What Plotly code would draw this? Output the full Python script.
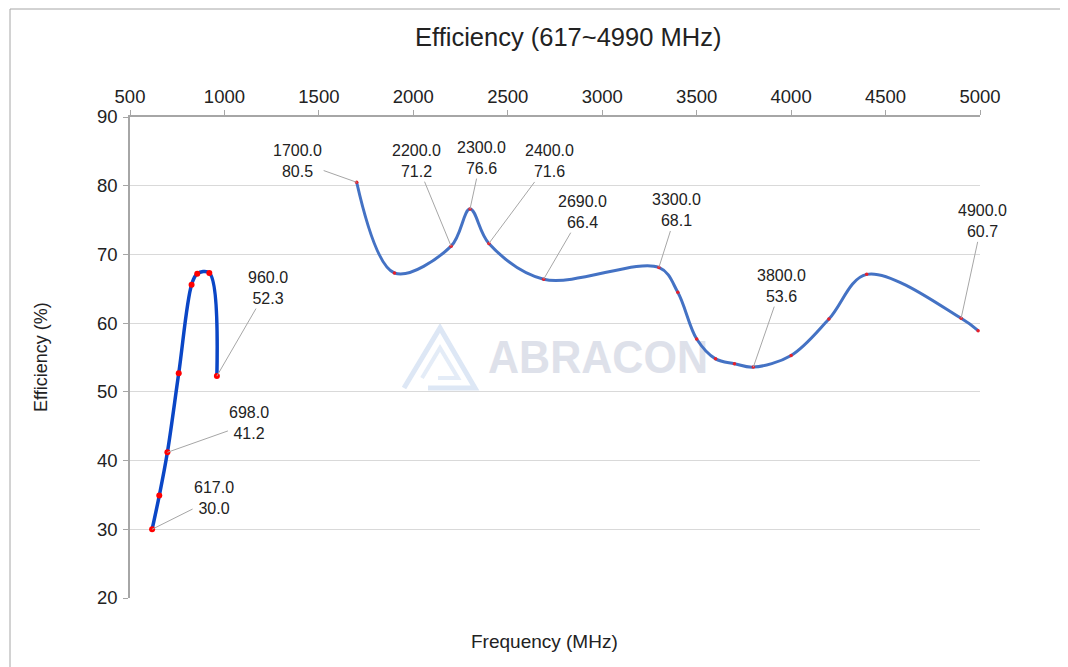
import base64
import plotly.graph_objects as go

# ---------------- data ----------------
low_freq = [617, 655, 698, 758, 826, 856, 920, 960]
low_eff = [30.0, 34.9, 41.2, 52.7, 65.6, 67.2, 67.3, 52.3]

high_freq = [1700, 1900, 2200, 2300, 2400, 2690, 3300, 3400, 3500, 3600,
             3700, 3800, 4000, 4200, 4400, 4900, 4990]
high_eff = [80.5, 67.3, 71.2, 76.6, 71.6, 66.4, 68.1, 64.5, 57.7, 54.8,
            54.1, 53.6, 55.3, 60.6, 67.1, 60.7, 58.9]

x_ticks = [500, 1000, 1500, 2000, 2500, 3000, 3500, 4000, 4500, 5000]
y_ticks = [20, 30, 40, 50, 60, 70, 80, 90]

# labelled points (frequency) and their label offsets in pixels
label_freqs = [617, 698, 960, 1700, 2200, 2300, 2400, 2690, 3300, 3800, 4900]
label_offsets = {
    617: (62, -31), 698: (82, -29), 960: (51, -88), 1700: (-59, -21),
    2200: (-35, -85), 2300: (11, -51), 2400: (61, -82), 2690: (39, -67),
    3300: (18, -57), 3800: (28, -81), 4900: (21, -97),
}

FONT = "Liberation Sans, Arial, sans-serif"

fig = go.Figure()

# watermark (below data)
svg = """<svg xmlns='http://www.w3.org/2000/svg' width='312' height='70' viewBox='0 0 312 70' preserveAspectRatio='none'>
<path d='M 4 66 L 40 6 L 75 66 L 28 66' fill='none' stroke='#DDE7F5' stroke-width='5' stroke-linejoin='miter'/>
<path d='M 22 56 L 40 26 L 58 56 L 38 56' fill='none' stroke='#E4ECF7' stroke-width='4'/>
<text x='88' y='51' font-family='Liberation Sans, Arial, sans-serif' font-weight='bold' font-size='46' fill='#DEE1EA' textLength='220' lengthAdjust='spacingAndGlyphs'>ABRACON</text>
</svg>"""
src = "data:image/svg+xml;base64," + base64.b64encode(svg.encode()).decode()
fig.add_layout_image(dict(source=src, xref="paper", yref="paper",
                          x=(400 - 130) / 850, y=1 - (322 - 117) / 481,
                          sizex=312 / 850, sizey=70 / 481,
                          xanchor="left", yanchor="top", sizing="stretch",
                          layer="below", opacity=1))

fig.add_trace(go.Scatter(
    x=low_freq, y=low_eff, mode="lines+markers",
    line=dict(color="#0A46C6", width=3.5, shape="spline", smoothing=1.0),
    marker=dict(color="#FF0000", size=6, line=dict(width=0)),
    hoverinfo="skip", showlegend=False))

fig.add_trace(go.Scatter(
    x=high_freq, y=high_eff, mode="lines+markers",
    line=dict(color="#4472C4", width=3, shape="spline", smoothing=1.0),
    marker=dict(color="#E8202A", size=3.5, line=dict(width=0)),
    hoverinfo="skip", showlegend=False))

all_f = low_freq + high_freq
all_e = low_eff + high_eff
for f in label_freqs:
    v = all_e[all_f.index(f)]
    ax, ay = label_offsets[f]
    fig.add_annotation(x=f, y=v, xref="x", yref="y",
                       text=f"{f:.1f}<br>{v:.1f}", showarrow=True,
                       arrowhead=0, arrowwidth=1, arrowcolor="#A6A6A6",
                       ax=ax, ay=ay, standoff=0,
                       font=dict(family=FONT, size=16, color="#222222"),
                       align="center")

# titles
fig.add_annotation(text="Efficiency (617~4990 MHz)", xref="paper", yref="paper",
                   x=(568 - 130) / 850, y=1 + (117 - 37) / 481,
                   showarrow=False, font=dict(family=FONT, size=25.5, color="#222222"),
                   xanchor="center", yanchor="middle")
fig.add_annotation(text="Frequency (MHz)", xref="paper", yref="paper",
                   x=(544 - 130) / 850, y=-(641 - 598) / 481,
                   showarrow=False, font=dict(family=FONT, size=19, color="#222222"),
                   xanchor="center", yanchor="middle")
fig.add_annotation(text="Efficiency (%)", xref="paper", yref="paper",
                   x=-(130 - 41) / 850, y=1 - (357 - 117) / 481, textangle=-90,
                   showarrow=False, font=dict(family=FONT, size=18, color="#222222"),
                   xanchor="center", yanchor="middle")

# chart border
fig.add_shape(type="rect", xref="paper", yref="paper",
              x0=(10 - 130) / 850, x1=(1066 - 130) / 850,
              y0=-(680 - 598) / 481, y1=1 + (117 - 9) / 481,
              line=dict(color="#A6A6A6", width=1), layer="below")

# page has an 8px body margin, so the figure is placed at (8, 8)
fig.update_layout(
    width=1060, height=659,
    margin=dict(l=122, r=88, t=109, b=69),
    paper_bgcolor="white", plot_bgcolor="white",
    hovermode=False,
    font=dict(family=FONT, color="#222222"),
    xaxis=dict(range=[500, 5000], side="top", tickvals=x_ticks,
               ticks="outside", ticklen=5, tickcolor="#A6A6A6",
               showline=True, linecolor="#A6A6A6", linewidth=1.5,
               showgrid=False, zeroline=False,
               tickfont=dict(family=FONT, size=18.5, color="#222222"),
               ticklabelstandoff=0),
    yaxis=dict(range=[20, 90], tickvals=y_ticks,
               ticks="outside", ticklen=5, tickcolor="#A6A6A6",
               showline=True, linecolor="#A6A6A6", linewidth=1.5,
               showgrid=True, gridcolor="#D9D9D9", gridwidth=1.2, zeroline=False,
               tickfont=dict(family=FONT, size=18.5, color="#222222"),
               ticklabelstandoff=2),
)

fig.write_html("out.html")
